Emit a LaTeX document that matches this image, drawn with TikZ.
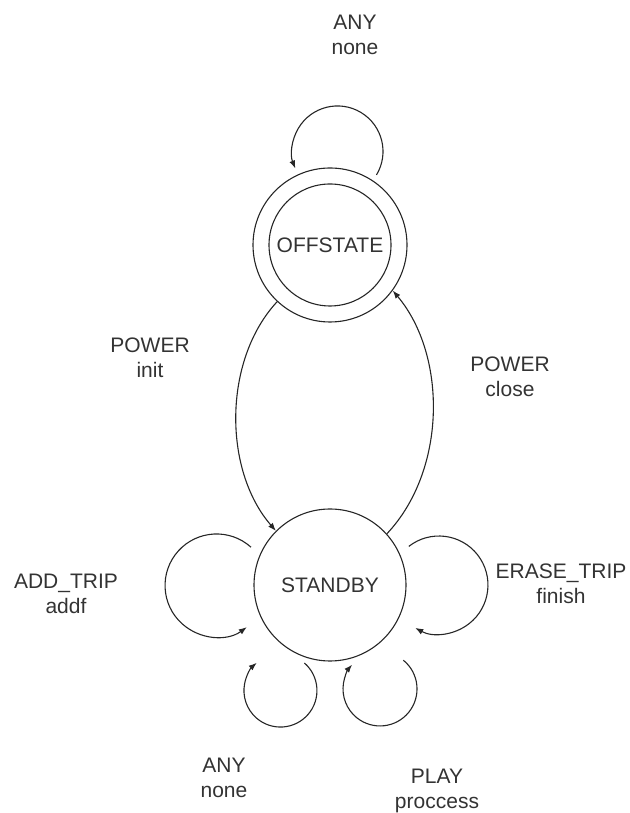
\documentclass[tikz,border=0pt]{standalone}
\usepackage{fontspec}
\setmainfont{Liberation Sans}
\usetikzlibrary{arrows.meta,calc}

\tikzset{
  state/.style={circle, draw=black!85, line width=1.1pt, inner sep=0pt,
                font=\fontsize{21}{25}\selectfont, text=black!80},
  edge/.style={draw=black!85, line width=1.1pt,
               -{Latex[length=8pt,width=6pt]}},
  lbl/.style={align=center, inner sep=0pt, text=black!80,
              font=\fontsize{21}{25}\selectfont}
}

\begin{document}
\begin{tikzpicture}[x=1pt,y=1pt]
  \useasboundingbox (0,0) rectangle (629,813);

  % states
  \node[state, minimum size=154pt] (off) at (330,568) {};
  \node[state, minimum size=122pt] (offin) at (off) {OFFSTATE};
  \node[state, minimum size=152pt] (stb) at (330,228) {STANDBY};

  % transitions between the two states
  \draw[edge] (off.227) .. controls (223,453) and (223,343) .. (stb.135);
  \draw[edge] (stb.42) .. controls (447,343) and (447,458) .. (off.-36);

  % start points of the self loops
  \coordinate (offloop) at ($(off)+(46.5,70.1)$);
  \coordinate (addloop) at ($(stb)+(-79,37.8)$);
  \coordinate (eraseloop) at ($(stb)+(78.8,38.6)$);
  \coordinate (anyloop) at ($(stb)+(-25.6,-78)$);
  \coordinate (playloop) at ($(stb)+(73.3,-75.2)$);

  % self loops
  \draw[edge] (offloop) arc[start angle=-31, end angle=202, radius=45.5];
  \draw[edge] (addloop) arc[start angle=48, end angle=306, radius=51.5];
  \draw[edge] (eraseloop) arc[start angle=128, end angle=-119, radius=49];
  \draw[edge] (anyloop) arc[start angle=49, end angle=-229.5, radius=36.5];
  \draw[edge] (playloop) arc[start angle=51, end angle=-221, radius=37];

  % transition labels
  \node[lbl] (l1) at (355,778) {ANY\\none};
  \node[lbl] (l2) at (150,455.5) {POWER\\init};
  \node[lbl] (l3) at (510,436) {POWER\\close};
  \node[lbl] (l4) at (66,219.5) {ADD\_TRIP\\addf};
  \node[lbl] (l5) at (561,229) {ERASE\_TRIP\\finish};
  \node[lbl] (l6) at (224,35) {ANY\\none};
  \node[lbl] (l7) at (437,22.5) {PLAY\\proccess};
\end{tikzpicture}
\end{document}
